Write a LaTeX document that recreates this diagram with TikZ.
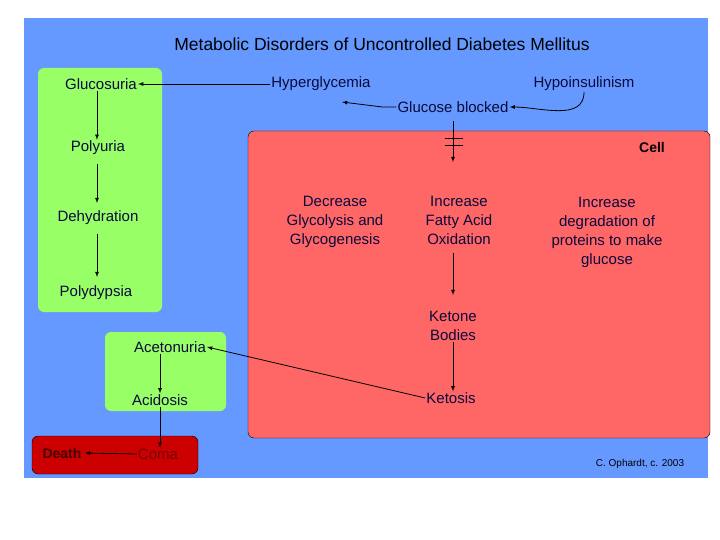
\documentclass[tikz,border=0pt]{standalone}
\usepackage{fontspec}
\setmainfont{Liberation Sans}
\begin{document}
\begin{tikzpicture}[x=1pt,y=-1pt,
 t/.style={font=\fontsize{15}{19}\selectfont,align=center,text={rgb,255:red,10;green,10;blue,60},inner sep=1pt},
 a/.style={-latex,thick},
 gbox/.style={rounded corners=6pt,draw=none,fill={rgb,255:red,153;green,255;blue,102}}]
\useasboundingbox (0,0) rectangle (720,540);
\fill[white] (0,0) rectangle (720,540);
\fill[fill={rgb,255:red,102;green,153;blue,255}] (24,18) rectangle (708,478);
\fill[gbox] (38,68) rectangle (162,312);
\fill[gbox] (105,332) rectangle (226,411);
\draw[fill={rgb,255:red,255;green,102;blue,102},rounded corners=6pt] (248,131) rectangle (710,438);
\draw[fill={rgb,255:red,204;green,0;blue,0},rounded corners=6pt] (32,436) rectangle (198,474);
\node[font=\fontsize{17.5}{20}\selectfont] (title) at (382,44) {Metabolic Disorders of Uncontrolled Diabetes Mellitus};
\node[t] (glu) at (101,84) {Glucosuria};
\node[t] (pu) at (98,148) {Polyuria};
\node[t] (de) at (98,218) {Dehydration};
\node[t] (pd) at (96,293) {Polydypsia};
\node[t] (hg) at (321,84) {Hyperglycemia};
\node[t] (hi) at (584,84) {Hypoinsulinism};
\node[t] (gb) at (453,107) {Glucose blocked};
\node[font=\bfseries\fontsize{14}{16}\selectfont] (cell) at (652,147) {Cell};
\node[t] (dg) at (335,222) {Decrease\\Glycolysis and\\Glycogenesis};
\node[t] (fa) at (459,220) {Increase\\Fatty Acid\\Oxidation};
\node[t] (pr) at (607,232) {Increase\\degradation of\\proteins to make\\glucose};
\node[t] (kb) at (453,326) {Ketone\\Bodies};
\node[t] (ke) at (451,398) {Ketosis};
\node[t] (ac) at (170,347) {Acetonuria};
\node[t] (ad) at (160,400) {Acidosis};
\node[t,text={rgb,255:red,120;green,0;blue,0}] (co) at (158,454) {Coma};
\node[font=\bfseries\fontsize{14}{16}\selectfont,text={rgb,255:red,70;green,0;blue,0}] (dt) at (62,453) {Death};
\node[font=\fontsize{10}{12}\selectfont] (cr) at (640,464) {C. Ophardt, c. 2003};
\draw[a] (hg) -- (glu);
\draw[a] (glu.south -| 97,0) -- (pu.north -| 97,0);
\draw[a] (pu.south -| 97,0) ++(0,8) -- (97,203);
\draw[a] (de.south -| 97,0) ++(0,8) -- (97,277);
\draw[a] (gb.west) -- ++(-14,0) -- (342,102);
\draw[a] (hi.south) to[out=-90,in=0] (gb.east);
\coordinate (gt) at (453,121);
\draw[a] (gt) -- (453,162);
\draw[thick] (445,138) -- (463,138) (445,145) -- (463,145);
\draw[a] (fa.south -| 453,0) ++(0,8) -- (453,295);
\draw[a] (kb.south -| 453,0) -- (ke.north -| 453,0);
\draw[a] (ke.west) -- (ac.east);
\draw[a] (ac.south -| 160,0) -- (ad.north -| 160,0);
\draw[a] (ad.south -| 160,0) -- (co.north -| 160,0);
\draw[a] (co.west) -- (dt.east);
\end{tikzpicture}
\end{document}
